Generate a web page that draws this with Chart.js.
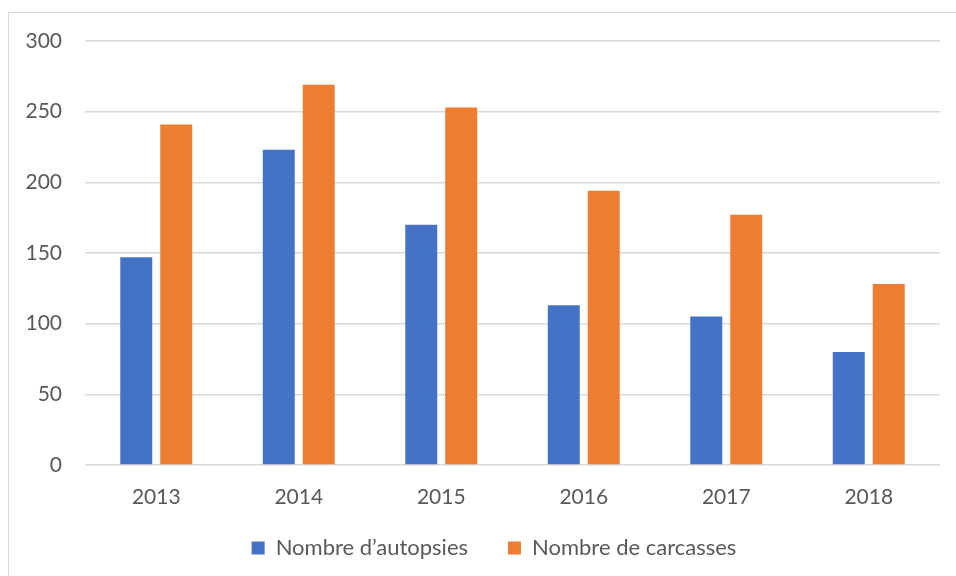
<!DOCTYPE html>
<html>
<head>
<meta charset="utf-8">
<script src="https://cdn.jsdelivr.net/npm/chart.js@4.4.1/dist/chart.umd.min.js"></script>
<style>
  html, body { margin: 0; padding: 0; background: #fff; overflow: hidden; }
  #wrap { position: relative; width: 956px; height: 576px; }
  #frame { position: absolute; left: 8px; top: 12px; width: 1000px; height: 600px; border: 1.5px solid #d9d9d9; box-sizing: border-box; }
  canvas { position: absolute; left: 0; top: 0; }
</style>
</head>
<body>
<div id="wrap">
  <div id="frame"></div>
  <canvas id="chart" width="956" height="576"></canvas>
</div>
<script>
const years = ['2013', '2014', '2015', '2016', '2017', '2018'];
const autopsies = [147, 223, 170, 113, 105, 80];
const carcasses = [241, 269, 253, 194, 177, 128];
const yTicks = [0, 50, 100, 150, 200, 250, 300];

const textColor = '#595959';
const fontFamily = 'Lato, "Noto Sans", sans-serif';

// nudge the legend: centred under the plot area rather than the canvas, and a bit higher
const legendOffset = {
    id: 'legendOffset',
    afterLayout(chart) {
        const lg = chart.legend;
        lg.left += 24;
        lg.right += 24;
        lg.top -= 14;
        lg.bottom -= 14;
    }
};

const canvas = document.getElementById('chart');
const config = {
    type: 'bar',
    data: {
        labels: years,
        datasets: [{
            label: 'Nombre d’autopsies',
            data: autopsies,
            backgroundColor: '#4472C4',
            categoryPercentage: 0.561,
            barPercentage: 0.8,
        }, {
            label: 'Nombre de carcasses',
            data: carcasses,
            backgroundColor: '#ED7D31',
            categoryPercentage: 0.561,
            barPercentage: 0.8,
        }]
    },
    options: {
        responsive: false,
        animation: false,
        layout: {
            padding: { left: 0, right: 16, top: 41, bottom: -7 }
        },
        scales: {
            x: {
                afterFit: (scale) => { scale.height = 46; },
                grid: { display: false },
                border: { display: false },
                ticks: { color: textColor, font: { family: fontFamily, size: 21 }, padding: 12 },
            },
            y: {
                min: 0,
                max: 300,
                afterBuildTicks: (scale) => {
                    scale.ticks = yTicks.map(v => ({ value: v }));
                },
                afterFit: (scale) => { scale.width = 85; },
                grid: { color: '#d9d9d9', lineWidth: 1.5, drawTicks: false },
                border: { display: false },
                ticks: { color: textColor, font: { family: fontFamily, size: 21 }, padding: 23 },
            }
        },
        plugins: {
            legend: {
                position: 'bottom',
                labels: {
                    color: textColor,
                    font: { family: fontFamily, size: 22 },
                    boxWidth: 13,
                    boxHeight: 13,
                    padding: 40,
                }
            },
            tooltip: { enabled: false }
        }
    },
    plugins: [legendOffset]
};

new Chart(canvas, config);
</script>
</body>
</html>
